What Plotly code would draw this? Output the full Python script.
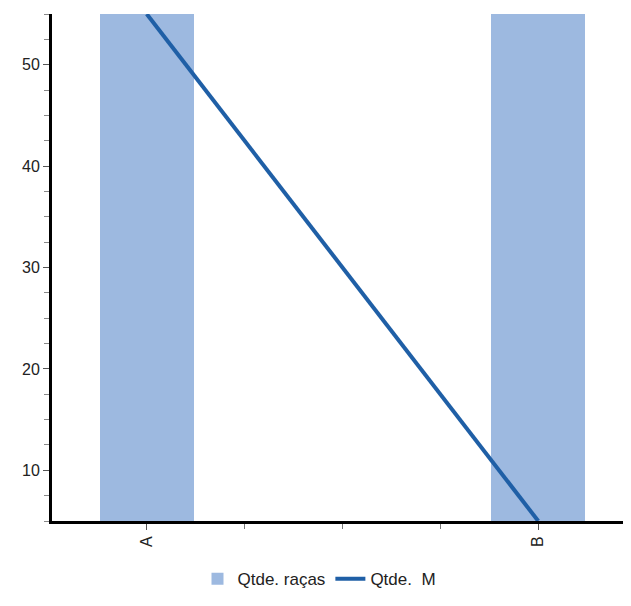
import plotly.graph_objects as go

categories = ["A", "B"]
qtde_racas = [60, 60]
qtde_m = [55, 5]

x_pos = list(range(len(categories)))

fig = go.Figure()
fig.add_trace(go.Bar(
    x=x_pos, y=qtde_racas, name="Qtde. raças",
    marker=dict(color="#9db9e0", line=dict(width=0)),
    width=0.24,
))
fig.add_trace(go.Scatter(
    x=x_pos, y=qtde_m, name="Qtde.  M", mode="lines",
    line=dict(color="#1f5fa6", width=4),
))

fig.update_layout(
    width=623, height=598,
    margin=dict(l=44, r=0, t=6, b=85),
    paper_bgcolor="white", plot_bgcolor="white",
    font=dict(family="Liberation Sans, Arial", size=16, color="#222222"),
    showlegend=True,
    legend=dict(orientation="h", xref="container", x=0.5, xanchor="center",
                yref="container", y=0.045, yanchor="middle",
                font=dict(size=17, color="#222222"), itemwidth=30,
                tracegroupgap=0),
    bargap=0,
)
fig.update_xaxes(
    range=[-0.242, 1.237],
    tickmode="array", tickvals=x_pos, ticktext=categories,
    tickangle=-90,
    ticks="outside", ticklen=6, tickwidth=1, tickcolor="#555555",
    minor=dict(dtick=0.25, tick0=0, ticks="outside", ticklen=5, tickwidth=1, tickcolor="#777777", showgrid=False),
    showline=True, linecolor="black", linewidth=3,
    showgrid=False, zeroline=False,
    tickfont=dict(size=16, color="#222222"),
)
fig.update_yaxes(
    range=[5, 55],
    tickmode="array", tickvals=[10, 20, 30, 40, 50],
    ticks="outside", ticklen=6, tickwidth=1, tickcolor="#555555",
    minor=dict(dtick=2.5, tick0=0, ticks="outside", ticklen=5, tickwidth=1, tickcolor="#888888", showgrid=False),
    showline=True, linecolor="black", linewidth=3,
    showgrid=False, zeroline=False,
    tickfont=dict(size=16, color="#222222"),
)

fig.write_html("out.html")
